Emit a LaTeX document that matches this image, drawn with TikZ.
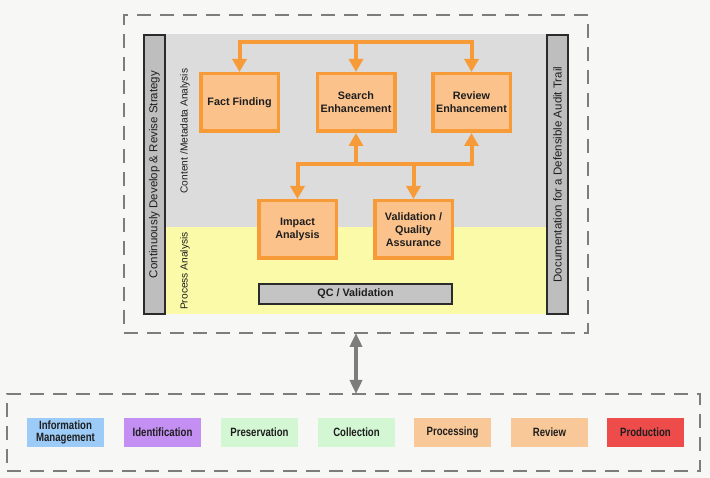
\documentclass[tikz,border=0pt]{standalone}
\usepackage{fontspec}
\setmainfont{Liberation Sans}
\newfontfamily\narrowsans[FakeStretch=0.8]{Liberation Sans}
\usetikzlibrary{arrows.meta,calc}
\definecolor{bgc}{HTML}{F7F8F6}
\definecolor{panelgray}{HTML}{DCDCDC}
\definecolor{paleyellow}{HTML}{FBFAA8}
\definecolor{oborder}{HTML}{F79B38}
\definecolor{ofill}{HTML}{FBC28C}
\definecolor{barfill}{HTML}{BEBEBE}
\definecolor{barline}{HTML}{2B2B2B}
\definecolor{qcfill}{HTML}{C4C4C4}
\definecolor{dashc}{HTML}{7D7D7D}
\definecolor{infoblue}{HTML}{9DCBF7}
\definecolor{idpurple}{HTML}{C48FF2}
\definecolor{palegreen}{HTML}{D2F7D2}
\definecolor{procorange}{HTML}{F9C898}
\definecolor{prodred}{HTML}{EE4B4B}
\definecolor{txt}{HTML}{1E1E1E}
\begin{document}
\begin{tikzpicture}[x=1pt,y=-1pt,
  dashbox/.style={draw=dashc, line width=2.5pt, dash pattern=on 14pt off 9pt, inner sep=0pt, outer sep=0pt},
  obox/.style={draw=oborder, fill=ofill, line width=3.5pt, minimum width=77.5pt, minimum height=57.5pt,
    inner sep=1pt, align=center, text=txt, font=\fontsize{10.8}{13}\selectfont\bfseries},
  bar/.style={draw=barline, fill=barfill, line width=2pt, minimum height=21pt, inner sep=0pt,
    text=txt, font=\fontsize{11.5}{13}\selectfont},
  lane/.style={inner sep=0pt, text=txt, font=\fontsize{10.2}{12}\selectfont},
  qcbox/.style={draw=barline, fill=qcfill, line width=2pt, minimum width=193pt, minimum height=20pt,
    inner sep=0pt, text=txt, font=\fontsize{10.8}{13}\selectfont\bfseries},
  phase/.style={minimum width=77pt, minimum height=29pt, inner sep=0pt, align=center, text=txt,
    font=\narrowsans\fontsize{12}{12}\selectfont\bfseries},
  oline/.style={draw=oborder, line width=4pt, line cap=rect},
  oarr/.style={draw=oborder, line width=4pt, -{Triangle[width=14pt,length=13pt]}},
  garr/.style={draw=dashc, line width=4pt, {Triangle[width=12pt,length=14pt]}-{Triangle[width=12pt,length=14pt]}}
]
\fill[bgc] (0,0) rectangle (710,478);
\useasboundingbox (0,0) rectangle (710,478);

% panels
\fill[panelgray] (166,34) rectangle (546,227);
\fill[paleyellow] (166,227) rectangle (546,314);

% dashed frames
\node[dashbox, minimum width=464pt, minimum height=318pt] (upper) at (356,174) {};
\node[dashbox, minimum width=693pt, minimum height=77pt] (lower) at (353.5,432.5) {};

% side bars
\node[bar, rotate=90, minimum width=279pt] (leftbar) at (154.5,174.5) {Continuously Develop \& Revise Strategy};
\node[bar, rotate=90, minimum width=279pt] (rightbar) at (557.5,174.5) {Documentation for a Defensible Audit Trail};

% lane labels
\node[lane, rotate=90] (lanecontent) at (185,131) {Content /Metadata Analysis};
\node[lane, rotate=90] (laneprocess) at (185,271) {Process Analysis};

% orange boxes
\node[obox] (FF) at (239.5,102.5) {Fact Finding};
\node[obox] (SE) at (356,102.5) {Search\\Enhancement};
\node[obox] (RE) at (471.5,102.5) {Review\\Enhancement};
\node[obox] (IA) at (297.5,229.5) {Impact\\Analysis};
\node[obox] (VQ) at (413.5,229.5) {Validation /\\Quality\\Assurance};

% QC bar
\node[qcbox] (QC) at (355.5,294) {QC / Validation};

% connectors
\coordinate (topy) at (0,42);
\coordinate (midy) at (0,164);
\draw[oline] (FF.north |- topy) -- (RE.north |- topy);
\draw[oarr] (FF.north |- topy) -- (FF.north);
\draw[oarr] (SE.north |- topy) -- (SE.north);
\draw[oarr] (RE.north |- topy) -- (RE.north);
\draw[oline] (IA.north |- midy) -- (RE.south |- midy);
\draw[oarr] (SE.south |- midy) -- (SE.south);
\draw[oarr] (RE.south |- midy) -- (RE.south);
\draw[oarr] (IA.north |- midy) -- (IA.north);
\draw[oarr] (VQ.north |- midy) -- (VQ.north);

% double arrow
\draw[garr] (upper.south) -- (upper.south |- lower.north);

% phases
\node[phase, fill=infoblue] (p1) at (65.5,432.5) {Information\\Management};
\node[phase, fill=idpurple] (p2) at (162.5,432.5) {Identification};
\node[phase, fill=palegreen] (p3) at (259.5,432.5) {Preservation};
\node[phase, fill=palegreen] (p4) at (356.5,432.5) {Collection};
\node[phase, fill=procorange] (p5) at (452.5,432.5) {Processing};
\node[phase, fill=procorange] (p6) at (549.5,432.5) {Review};
\node[phase, fill=prodred] (p7) at (645.5,432.5) {Production};
\end{tikzpicture}
\end{document}
